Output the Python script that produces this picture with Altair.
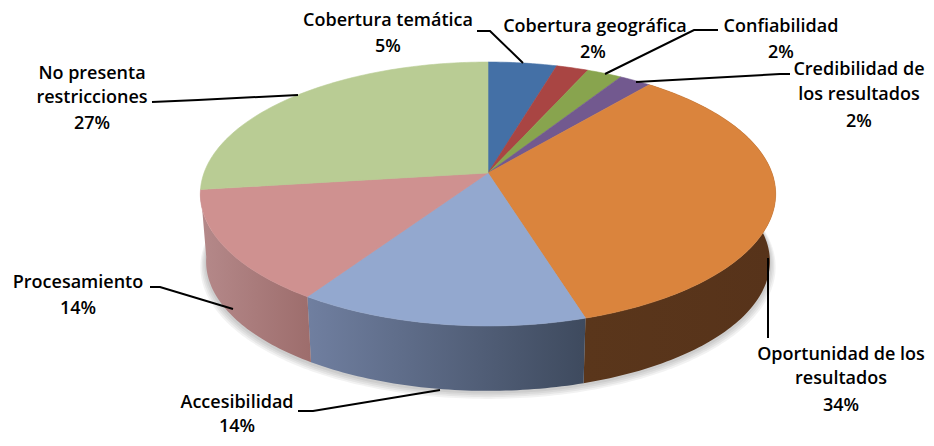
import math
import altair as alt
import pandas as pd

# ---- data ----
categories = ["Cobertura temática", "Cobertura geográfica", "Confiabilidad",
              "Credibilidad de los resultados", "Oportunidad de los resultados",
              "Accesibilidad", "Procesamiento", "No presenta restricciones"]
values = [4.5, 2.1, 2.3, 2.1, 34.3, 14.0, 13.7, 27]
percent_labels = ["5%", "2%", "2%", "2%", "34%", "14%", "14%", "27%"]
top_colors = ["#4470A6", "#A94543", "#88A44E", "#72598F", "#DA843D", "#93A8CF", "#CF9190", "#B9CC94"]

# ---- 3D view of the pie ----
APEX_X, APEX_Y = 488, 173
RX, PERSP, A_Y = 284, 0.159, -101.1
DEPTH, SHRINK = 68, 0.98
X_DOM, Y_DOM = [8, 926], [438, 8]
W, H = 918, 430


def rim(angle_deg, shrink=1.0, dy=0.0):
    a = math.radians(angle_deg)
    u, v = math.sin(a), math.cos(a)
    d = 1 + PERSP * v
    x = APEX_X + RX * u / d
    y = (A_Y * v + APEX_Y) / d
    return APEX_X + shrink * (x - APEX_X), APEX_Y + shrink * (y - APEX_Y) + dy


def arc(a0, a1, **kw):
    n = max(2, int(abs(a1 - a0)) + 1)
    return [rim(a0 + (a1 - a0) * i / n, **kw) for i in range(n + 1)]


def poly(points, color, stroke=None, opacity=1.0):
    df = pd.DataFrame(points, columns=["x", "y"])
    df["i"] = range(len(df))
    mark = dict(fill=color, opacity=opacity, strokeWidth=0.6 if stroke else 0, interpolate="linear-closed", clip=False)
    if stroke:
        mark["stroke"] = stroke
    else:
        mark["strokeOpacity"] = 0
    return alt.Chart(df).mark_line(**mark).encode(
        x=alt.X("x:Q", scale=alt.Scale(domain=X_DOM), axis=None),
        y=alt.Y("y:Q", scale=alt.Scale(domain=Y_DOM), axis=None),
        order=alt.Order("i:Q"),
    )


def grad(c0, c1):
    return alt.Gradient(gradient="linear", x1=0, x2=1, y1=0, y2=0,
                        stops=[alt.GradientStop(color=c0, offset=0), alt.GradientStop(color=c1, offset=1)])


total = sum(values)
bounds = [0.0]
for v in values:
    bounds.append(bounds[-1] + v / total * 360)

layers = []
# soft shadow under the body
for s, dy in [(1.0, 73), (0.995, 72), (0.99, 71), (0.985, 70)]:
    layers.append(poly(arc(0, 360, shrink=s, dy=dy), "#000000", opacity=0.05))

# side wall
side_fill = {4: grad("#5A361B", "#57331A"), 5: grad("#707FA0", "#3E4A5E"), 6: grad("#B5898A", "#9D6D6C")}
for idx in side_fill:
    a0, a1 = bounds[idx], bounds[idx + 1]
    pts = arc(a0, a1) + arc(a1, a0, shrink=SHRINK, dy=DEPTH)
    layers.append(poly(pts, side_fill[idx]))

# top faces
for idx, c in enumerate(top_colors):
    pts = [(APEX_X, APEX_Y)] + arc(bounds[idx], bounds[idx + 1])
    layers.append(poly(pts, c, stroke=c))

# leader lines
leaders = [
    [(477, 31), (490, 31), (523, 63)],
    [(605, 74), (694, 30), (718, 30)],
    [(636, 82), (780, 74), (790, 74)],
    [(768, 258), (768, 338)],
    [(440, 390), (313, 411), (298, 411)],
    [(233, 309), (160, 287), (150, 287)],
    [(298, 95), (198, 100), (152, 102)],
]
rows = []
for k, line in enumerate(leaders):
    for i, (x, y) in enumerate(line):
        rows.append(dict(k=k, i=i, x=x, y=y))
layers.append(
    alt.Chart(pd.DataFrame(rows)).mark_line(color="#000000", strokeWidth=2).encode(
        x=alt.X("x:Q", scale=alt.Scale(domain=X_DOM), axis=None),
        y=alt.Y("y:Q", scale=alt.Scale(domain=Y_DOM), axis=None),
        detail="k:N",
        order=alt.Order("i:Q"),
    )
)

# labels
label_lines = [
    ("Cobertura temática", 388, 19), (percent_labels[0], 388, 45),
    ("Cobertura geográfica", 595, 25), (percent_labels[1], 593, 51),
    ("Confiabilidad", 781, 25), (percent_labels[2], 781, 51),
    ("Credibilidad de", 859, 68), ("los resultados", 859, 93), (percent_labels[3], 859, 120),
    ("Oportunidad de los", 841, 353), ("resultados", 841, 377), (percent_labels[4], 841, 404),
    ("Accesibilidad", 237, 401), (percent_labels[5], 237, 425),
    ("Procesamiento", 78, 281), (percent_labels[6], 78, 307),
    ("No presenta", 92, 72), ("restricciones", 92, 96), (percent_labels[7], 92, 122),
]
layers.append(
    alt.Chart(pd.DataFrame(label_lines, columns=["t", "x", "y"])).mark_text(
        font="Open Sans", fontSize=18, fontWeight=600, color="#000000", align="center", baseline="middle", dy=2
    ).encode(
        x=alt.X("x:Q", scale=alt.Scale(domain=X_DOM), axis=None),
        y=alt.Y("y:Q", scale=alt.Scale(domain=Y_DOM), axis=None),
        text="t:N",
    )
)

chart = alt.layer(*layers).properties(
    width=W, height=H, padding=0, background="#FFFFFF",
    autosize=alt.AutoSizeParams(type="none"),
).configure_view(stroke=None)

chart.save("out.html", embed_options={"renderer": "svg", "actions": False})
